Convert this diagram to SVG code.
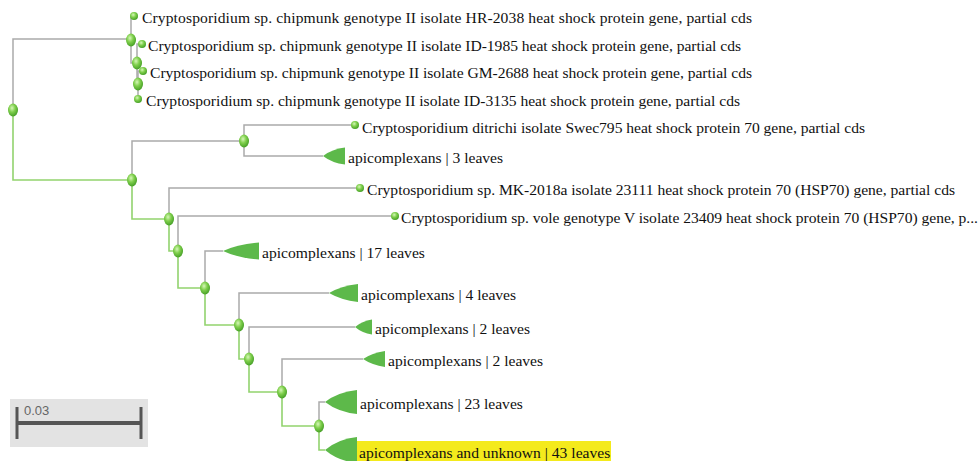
<svg xmlns="http://www.w3.org/2000/svg" width="980" height="461" viewBox="0 0 980 461">
<style>
.g{fill:none;stroke:#aaaaaa;stroke-width:1.5}
.h{fill:none;stroke:#92d36e;stroke-width:1.6}
.t{font-family:"Liberation Serif","Times New Roman",serif;font-size:15.6px;fill:#111}
.n{fill:url(#ng)}
.c{fill:#5db94a}
</style>
<defs>
<radialGradient id="ng" cx="0.4" cy="0.35" r="0.7">
<stop offset="0" stop-color="#d6f7b8"/>
<stop offset="0.45" stop-color="#7fcf4c"/>
<stop offset="1" stop-color="#3f9a22"/>
</radialGradient>
</defs>
<rect width="980" height="461" fill="#ffffff"/>
<g id="connectors">
<path class="g" d="M13,110 V39 H131"/>
<path class="h" d="M13,110 V180 H132"/>
<path class="g" d="M131,40 V16 H134 M131,40 V63 H137"/>
<path class="g" d="M137,63 V44 H142 M137,63 V85 H138"/>
<path class="g" d="M138,85 V71 H143 M138,85 V99 H138"/>
<path class="g" d="M132,180 V141 H244"/>
<path class="h" d="M132,180 V219 H169"/>
<path class="g" d="M244,141 V125 H355 M244,141 V156 H323"/>
<path class="g" d="M169,219 V188 H360"/>
<path class="h" d="M169,219 V251 H178"/>
<path class="g" d="M178,251 V216 H395"/>
<path class="h" d="M178,251 V288 H205"/>
<path class="g" d="M205,288 V251 H223"/>
<path class="h" d="M205,288 V325 H239"/>
<path class="g" d="M239,325 V293 H329"/>
<path class="h" d="M239,325 V359 H249"/>
<path class="g" d="M249,359 V327 H355"/>
<path class="h" d="M249,359 V392 H282"/>
<path class="g" d="M282,392 V359 H363"/>
<path class="h" d="M282,392 V426 H319"/>
<path class="g" d="M319,426 V402 H325"/>
<path class="h" d="M319,426 V450 H325"/>
</g>
<g id="n-root"><ellipse class="n" cx="13" cy="110" rx="5" ry="6.5"/></g>
<g id="n-A"><ellipse class="n" cx="131" cy="40" rx="5" ry="6.5"/></g>
<g id="n-B"><ellipse class="n" cx="137" cy="63" rx="5" ry="6.5"/></g>
<g id="n-C"><ellipse class="n" cx="138" cy="84" rx="5" ry="6.5"/></g>
<g id="n-D"><ellipse class="n" cx="132" cy="180" rx="5" ry="6.5"/></g>
<g id="n-E"><ellipse class="n" cx="244" cy="141" rx="5" ry="6.5"/></g>
<g id="n-F"><ellipse class="n" cx="169" cy="219" rx="5" ry="6.5"/></g>
<g id="n-G"><ellipse class="n" cx="178" cy="251" rx="5" ry="6.5"/></g>
<g id="n-H"><ellipse class="n" cx="205" cy="288" rx="5" ry="6.5"/></g>
<g id="n-I"><ellipse class="n" cx="239" cy="325" rx="5" ry="6.5"/></g>
<g id="n-J"><ellipse class="n" cx="249" cy="359" rx="5" ry="6.5"/></g>
<g id="n-K"><ellipse class="n" cx="282" cy="392" rx="5" ry="6.5"/></g>
<g id="n-L"><ellipse class="n" cx="319" cy="426" rx="5" ry="6.5"/></g>
<g id="leaf-HR2038"><circle class="n" cx="134" cy="16" r="4"/><text class="t" x="142" y="23" textLength="610">Cryptosporidium sp. chipmunk genotype II isolate HR-2038 heat shock protein gene, partial cds</text></g>
<g id="leaf-ID1985"><circle class="n" cx="142" cy="44" r="4"/><text class="t" x="148" y="51" textLength="593">Cryptosporidium sp. chipmunk genotype II isolate ID-1985 heat shock protein gene, partial cds</text></g>
<g id="leaf-GM2688"><circle class="n" cx="143" cy="71" r="4"/><text class="t" x="150" y="78" textLength="602">Cryptosporidium sp. chipmunk genotype II isolate GM-2688 heat shock protein gene, partial cds</text></g>
<g id="leaf-ID3135"><circle class="n" cx="138" cy="99" r="4"/><text class="t" x="146" y="106" textLength="594">Cryptosporidium sp. chipmunk genotype II isolate ID-3135 heat shock protein gene, partial cds</text></g>
<g id="leaf-ditrichi"><circle class="n" cx="355" cy="125" r="4"/><text class="t" x="362" y="133" textLength="503">Cryptosporidium ditrichi isolate Swec795 heat shock protein 70 gene, partial cds</text></g>
<g id="leaf-MK2018a"><circle class="n" cx="360" cy="188" r="4"/><text class="t" x="367" y="195" textLength="588">Cryptosporidium sp. MK-2018a isolate 23111 heat shock protein 70 (HSP70) gene, partial cds</text></g>
<g id="leaf-vole"><circle class="n" cx="395" cy="216" r="4"/><text class="t" x="401" y="223" textLength="577">Cryptosporidium sp. vole genotype V isolate 23409 heat shock protein 70 (HSP70) gene, p...</text></g>
<g id="clade-3"><path class="c" d="M323,156 Q332,149 345,147.5 L345,164.5 Q332,163 323,156 Z"/><text class="t" x="348" y="163">apicomplexans | 3 leaves</text></g>
<g id="clade-17"><path class="c" d="M223,251 Q238,244 259,242.5 L259,259.5 Q238,258 223,251 Z"/><text class="t" x="262" y="258">apicomplexans | 17 leaves</text></g>
<g id="clade-4"><path class="c" d="M329,293 Q341,286 358,284 L358,302 Q341,300 329,293 Z"/><text class="t" x="361" y="300">apicomplexans | 4 leaves</text></g>
<g id="clade-2a"><path class="c" d="M355,327 Q362,321 372,319.5 L372,334.5 Q362,333 355,327 Z"/><text class="t" x="375" y="334">apicomplexans | 2 leaves</text></g>
<g id="clade-2b"><path class="c" d="M363,359 Q372,353 385,351 L385,367 Q372,365 363,359 Z"/><text class="t" x="388" y="366">apicomplexans | 2 leaves</text></g>
<g id="clade-23"><path class="c" d="M325,402 Q338,392 357,390 L357,414 Q338,412 325,402 Z"/><text class="t" x="360" y="409">apicomplexans | 23 leaves</text></g>
<g id="clade-43"><path class="c" d="M325,450 Q338,439 357,437 L357,463 Q338,461 325,450 Z"/><rect x="357" y="441" width="254" height="20" fill="#f4ea1c"/><text class="t" x="359" y="458">apicomplexans and unknown | 43 leaves</text></g>
<g id="scale-bar">
<rect x="10" y="399" width="138" height="48" fill="#e3e3e3"/>
<line x1="17" y1="423" x2="141" y2="423" stroke="#555555" stroke-width="4"/>
<line x1="17" y1="407" x2="17" y2="439" stroke="#555555" stroke-width="3"/>
<line x1="141" y1="407" x2="141" y2="439" stroke="#555555" stroke-width="3"/>
<text x="24" y="415" font-family="Liberation Sans,Arial,sans-serif" font-size="13" fill="#666666">0.03</text>
</g>
</svg>
